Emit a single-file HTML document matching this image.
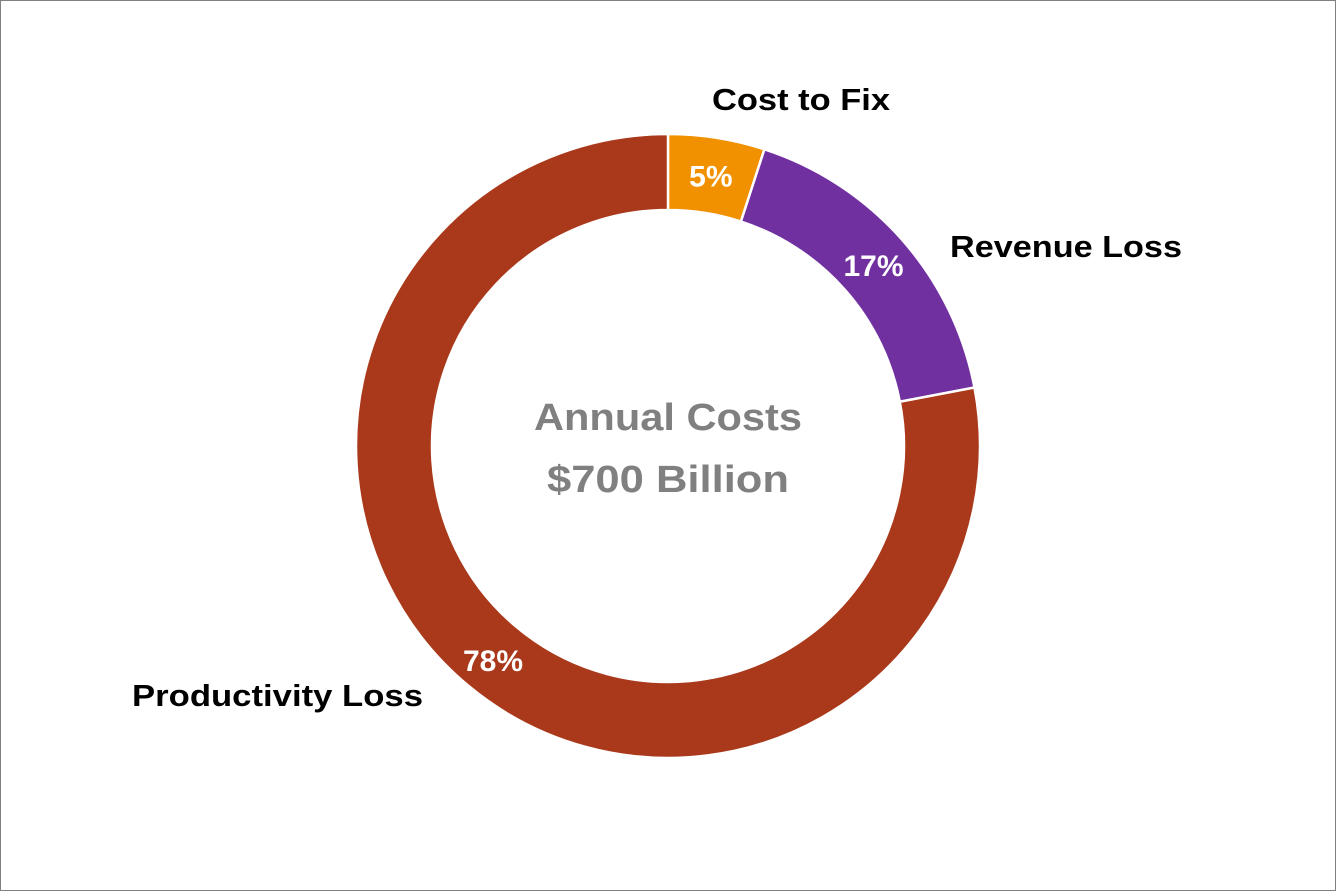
<!DOCTYPE html>
<html><head><meta charset="utf-8"><style>
html,body{margin:0;padding:0;background:#fff}
svg{display:block}
text{font-family:"Liberation Sans",sans-serif;font-weight:bold}
</style></head><body>
<svg id="chart" width="1336" height="891" viewBox="0 0 1336 891">
<rect x="0.5" y="0.5" width="1335" height="890" fill="#fff" stroke="#808080" stroke-width="1"/>
<g id="slices"></g>
<text x="668" y="430" text-anchor="middle" font-size="38" fill="#808080" textLength="268" lengthAdjust="spacingAndGlyphs">Annual Costs</text>
<text x="668" y="492" text-anchor="middle" font-size="38" fill="#808080" textLength="242" lengthAdjust="spacingAndGlyphs">$700 Billion</text>
<text x="712" y="110" font-size="31" fill="#000" textLength="178" lengthAdjust="spacingAndGlyphs">Cost to Fix</text>
<text x="950" y="257" font-size="31" fill="#000" textLength="232" lengthAdjust="spacingAndGlyphs">Revenue Loss</text>
<text x="132" y="706" font-size="31" fill="#000" textLength="291" lengthAdjust="spacingAndGlyphs">Productivity Loss</text>
<g id="pcts"></g>
</svg>
<script>
const categories = ["Cost to Fix", "Revenue Loss", "Productivity Loss"];
const values = [5, 17, 78];
const pctLabels = ["5%", "17%", "78%"];
const colors = ["#F29100", "#7030A0", "#A9391A"];
const cx = 668, cy = 446, R = 312, r = 236;
const total = values.reduce((a,b)=>a+b,0);
const ns = "http://www.w3.org/2000/svg";
const gS = document.getElementById('slices'), gP = document.getElementById('pcts');
function pt(a, rad){ return [cx + rad*Math.sin(a), cy - rad*Math.cos(a)]; }
let acc = 0;
const labelPos = [[711,178,0],[873,267,0],[493,660,0]];
values.forEach((v,i)=>{
  const a0 = acc/total*2*Math.PI; acc += v; const a1 = acc/total*2*Math.PI;
  const large = (a1-a0) > Math.PI ? 1 : 0;
  const [x0,y0]=pt(a0,R),[x1,y1]=pt(a1,R),[x2,y2]=pt(a1,r),[x3,y3]=pt(a0,r);
  const p = document.createElementNS(ns,'path');
  p.setAttribute('d',`M${x0},${y0} A${R},${R} 0 ${large} 1 ${x1},${y1} L${x2},${y2} A${r},${r} 0 ${large} 0 ${x3},${y3} Z`);
  p.setAttribute('fill',colors[i]); p.setAttribute('stroke','#fff'); p.setAttribute('stroke-width','2.5');
  
  
  gS.appendChild(p);
  // label position: for small slices mid-angle, for big one near lower-left
  let am = (a0+a1)/2;
  if (v > 50) am = a0 + (a1-a0)*0.55;
  const [lx,ly] = pt(am,(R+r)/2);
  const t = document.createElementNS(ns,'text');
  t.setAttribute('x', v>50 ? 493 : lx); t.setAttribute('y', (v>50 ? 660 : ly) + 11);
  t.setAttribute('text-anchor','middle'); t.setAttribute('font-size','30'); t.setAttribute('fill','#fff');
  t.textContent = pctLabels[i];
  
  
  gP.appendChild(t);
});
</script>
</body></html>
